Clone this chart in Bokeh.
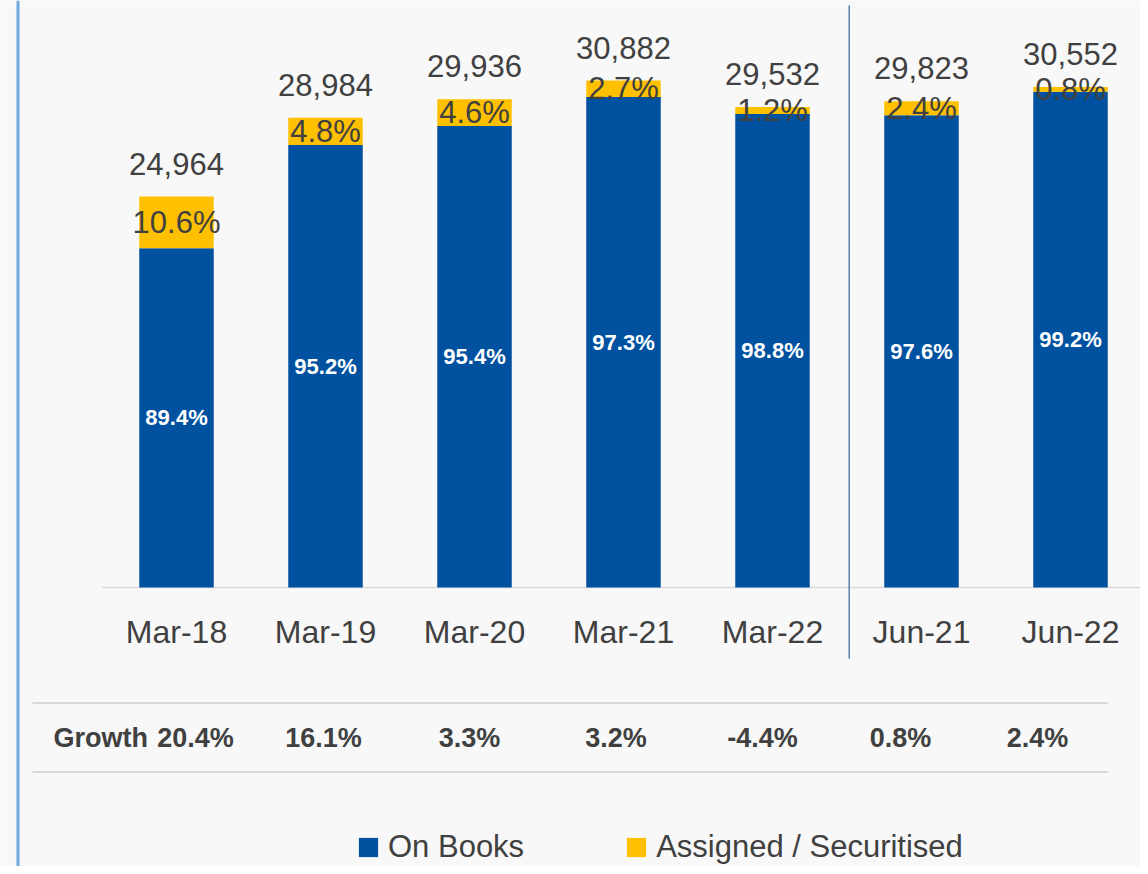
import numpy as np
from bokeh.plotting import figure
from bokeh.models import Range1d, ColumnDataSource, Legend, LegendItem, Span
from bokeh.core.properties import value
from bokeh.embed import file_html
from bokeh.resources import INLINE

# ---------------- data ----------------
categories = ["Mar-18", "Mar-19", "Mar-20", "Mar-21", "Mar-22", "Jun-21", "Jun-22"]
totals = [24964, 28984, 29936, 30882, 29532, 29823, 30552]
on_books_pct = [89.4, 95.2, 95.4, 97.3, 98.8, 97.6, 99.2]
assigned_pct = [10.6, 4.8, 4.6, 2.7, 1.2, 2.4, 0.8]
growth = ["20.4%", "16.1%", "3.3%", "3.2%", "-4.4%", "0.8%", "2.4%"]
series_names = ["On Books", "Assigned / Securitised"]
growth_title = "Growth"

# ---------------- style / layout ----------------
FONT = "Liberation Sans"
BLUE = "#0052A0"
GOLD = "#FFC000"
TXT = "#404040"
BG = "#F8F8F8"
W, H = 1140, 866
Y_BASE = 5000            # value axis starts here
PPU = 0.019585           # pixels per value unit
CAT_PX = 149             # pixels per category
CAT0_PX = 176            # x of first category centre
BASE_PX = 587            # y of the value-axis baseline
upp = 1.0 / PPU
GROWTH_SHIFT_PX = [19, -2, -5, -7.5, -10, -21, -33]


def xd(px):
    return (px - CAT0_PX) / CAT_PX


def yd(py):
    return Y_BASE + (BASE_PX - py) * upp


x = np.arange(len(categories), dtype=float)
tot = np.array(totals, dtype=float)
on_top = tot * np.array(on_books_pct) / 100.0

src = ColumnDataSource(dict(
    x=x, cat=categories, total=tot, on_top=on_top,
    total_lbl=[f"{t:,}" for t in totals],
    on_lbl=[f"{v:.1f}%" for v in on_books_pct],
    as_lbl=[f"{v:.1f}%" for v in assigned_pct],
    total_y=tot + 33 * upp,
    as_y=(on_top + tot) / 2,
    on_y=(Y_BASE + on_top) / 2,
    cat_y=np.full(len(categories), yd(631.5)),
    growth=growth,
    gx=x + np.array(GROWTH_SHIFT_PX) / CAT_PX,
    gy=np.full(len(categories), yd(737.5)),
))

p = figure(width=W, height=H, output_backend="svg", toolbar_location=None,
           x_range=Range1d(xd(0), xd(W)),
           y_range=Range1d(yd(H), yd(0)),
           x_axis_location=None, y_axis_location=None,
           min_border=0, background_fill_color=BG, border_fill_color=BG,
           outline_line_color=None)
p.grid.visible = False

# decorative lines
p.add_layout(Span(location=xd(17.5), dimension="height", line_color="#6FA8DC", line_width=3))
p.segment(x0=[xd(101)], y0=[Y_BASE], x1=[xd(1148)], y1=[Y_BASE], line_color="#D9D9D9", line_width=1.5)
p.segment(x0=[xd(32), xd(32)], y0=[yd(702.5), yd(771.5)], x1=[xd(1108), xd(1108)],
          y1=[yd(702.5), yd(771.5)], line_color="#D9D9D9", line_width=2)
p.segment(x0=[xd(848.7)], y0=[yd(5)], x1=[xd(848.7)], y1=[yd(658)], line_color="#5A7DA6", line_width=1.5)

# bars
r_on = p.vbar(x="x", width=0.5, bottom=Y_BASE, top="on_top", source=src,
              fill_color=BLUE, line_color=None)
r_as = p.vbar(x="x", width=0.5, bottom="on_top", top="total", source=src,
              fill_color=GOLD, line_color=None)

# labels
common = dict(text_align="center", text_baseline="middle", text_font=value(FONT))
p.text(x="x", y="total_y", text="total_lbl", source=src, text_font_size="31px",
       text_color=TXT, **common)
p.text(x="x", y="as_y", text="as_lbl", source=src, text_font_size="31px",
       text_color=TXT, **common)
p.text(x="x", y="on_y", text="on_lbl", source=src, text_font_size="22px",
       text_font_style="bold", text_color="white", **common)
p.text(x="x", y="cat_y", text="cat", source=src, text_font_size="32px",
       text_color=TXT, **common)
p.text(x="gx", y="gy", text="growth", source=src, text_font_size="27px",
       text_font_style="bold", text_color=TXT, **common)
p.text(x=[xd(53)], y=[yd(737.5)], text=[growth_title], text_align="left",
       text_baseline="middle", text_font=value(FONT), text_font_size="27px",
       text_font_style="bold", text_color=TXT)

legend = Legend(items=[LegendItem(label=series_names[0], renderers=[r_on]),
                       LegendItem(label=series_names[1], renderers=[r_as])],
                orientation="horizontal", location=(356, 1),
                glyph_width=24, glyph_height=24, label_standoff=8, spacing=100,
                padding=0, margin=0, border_line_color=None, background_fill_alpha=0,
                label_text_font=FONT, label_text_font_size="31px", label_text_color=TXT)
p.add_layout(legend)

open("out.html", "w").write(file_html(p, INLINE))
